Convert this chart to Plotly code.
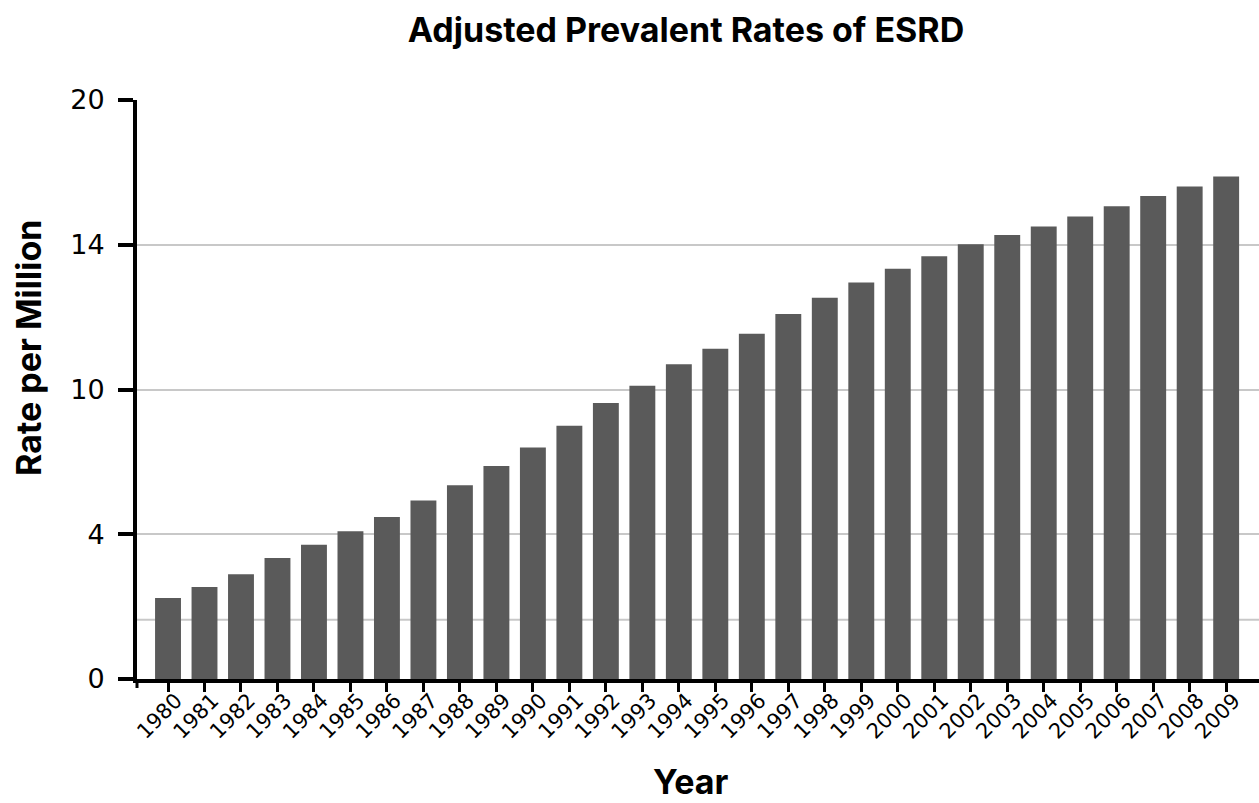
import plotly.graph_objects as go

years = [str(y) for y in range(1980, 2010)]
rates = [2.80, 3.18, 3.62, 4.18, 4.64, 5.10, 5.60, 6.17, 6.69, 7.36,
         8.00, 8.75, 9.53, 10.13, 10.87, 11.41, 11.93, 12.61, 13.17, 13.70,
         14.17, 14.60, 15.02, 15.34, 15.63, 15.98, 16.33, 16.68, 17.01, 17.36]
y_tickvals = [0, 5, 10, 15, 20]
y_ticktext = ["0", "4", "10", "14", "20"]
extra_grid = 2.05

W, H = 1259, 803
ML, MR, MT, MB = 137, 0, 100, 124
PH = H - MT - MB
PW = W - ML - MR

fig = go.Figure()
fig.add_trace(go.Bar(
    x=list(range(len(years))), y=rates,
    marker=dict(color="#5a5a5a", line=dict(width=0)),
    width=0.71,
))

fig.add_shape(type="line", xref="paper", yref="y", x0=0, x1=1,
              y0=extra_grid, y1=extra_grid, layer="below",
              line=dict(color="#c8c8c8", width=2))
# tick below axis origin
fig.add_shape(type="line", xref="paper", yref="paper", x0=0, x1=0,
              y0=0, y1=-9 / PH, line=dict(color="black", width=3))

bold_font = dict(family="Inter, Roboto, sans-serif", size=34, color="black")

fig.update_layout(
    width=W, height=H,
    margin=dict(l=ML, r=MR, t=MT, b=MB, autoexpand=False),
    plot_bgcolor="white", paper_bgcolor="white",
    showlegend=False,
    title=dict(text="<b>Adjusted Prevalent Rates of ESRD</b>",
               x=686 / W, xanchor="center", y=1 - 30 / H, yanchor="middle",
               font=bold_font),
    xaxis=dict(
        range=[-0.85, 29.9], automargin=False,
        tickvals=list(range(len(years))), ticktext=years,
        tickangle=-45, ticks="outside", ticklen=9, tickwidth=3, tickcolor="black",
        showline=True, linecolor="black", linewidth=4,
        showgrid=False, zeroline=False,
        ticklabelstandoff=-12, ticklabelshift=8,
        tickfont=dict(family="DejaVu Sans, sans-serif", size=21, color="black"),
    ),
    yaxis=dict(
        range=[0, 20], automargin=False,
        tickvals=y_tickvals, ticktext=y_ticktext,
        ticks="outside", ticklen=15, tickwidth=4, tickcolor="black",
        showline=True, linecolor="black", linewidth=4,
        showgrid=True, gridcolor="#c8c8c8", gridwidth=2,
        zeroline=False, ticklabelstandoff=8,
        tickfont=dict(family="DejaVu Sans, sans-serif", size=27, color="black"),
    ),
    annotations=[
        dict(text="<b>Rate per Million</b>", textangle=-90,
             xref="paper", yref="paper",
             x=(28 - ML) / PW, y=(679 - 348) / PH,
             xanchor="center", yanchor="middle", showarrow=False,
             font=bold_font),
        dict(text="<b>Year</b>",
             xref="paper", yref="paper",
             x=(690 - ML) / PW, y=-(781 - 679) / PH,
             xanchor="center", yanchor="middle", showarrow=False,
             font=bold_font),
    ],
)

fig.write_html("out.html", config={"displayModeBar": False},
               post_script="document.body.style.margin='0';document.body.style.overflow='hidden';")
